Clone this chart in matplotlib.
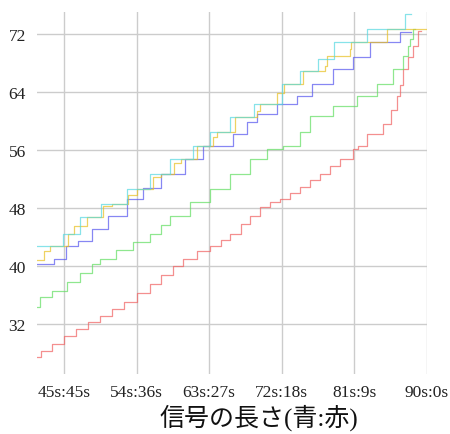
import matplotlib.pyplot as plt

plt.rcParams['font.family'] = ['Liberation Serif', 'Noto Sans CJK JP']

# 青信号の長さ [s] ごとの段階的な推移（where='post' の階段）
x_end = {"red": 89.2, "green": 88.5, "blue": 88.0, "yellow": 90.0, "cyan": 88.0}

red_x = [41.65, 42.2, 43.5, 45.0, 46.5, 48.0, 49.5, 51.0, 52.5, 54.0, 55.7, 57.0,
         58.5, 59.7, 61.5, 63.1, 64.5, 65.6, 67.0, 68.0, 69.3, 70.5, 71.8, 73.0,
         74.2, 75.5, 76.7, 78.0, 79.2, 80.8, 81.5, 82.5, 84.5, 85.5, 86.3, 86.7,
         87.0, 87.6, 88.2, 88.9]
red_y = [27.4, 28.3, 29.2, 30.3, 31.3, 32.2, 33.1, 34.0, 35.0, 36.2, 37.5, 38.8,
         40.0, 41.0, 42.0, 42.8, 43.6, 44.4, 45.8, 46.9, 48.1, 48.8, 49.2, 50.0,
         50.9, 51.8, 52.7, 53.8, 54.8, 56.1, 56.6, 58.2, 59.6, 61.5, 63.4, 65.0,
         67.2, 68.8, 70.3, 72.4]

green_x = [41.65, 42.0, 43.5, 45.4, 47.0, 48.5, 49.5, 51.5, 53.5, 55.7, 57.0, 58.1,
           60.6, 63.1, 65.6, 68.0, 70.2, 72.1, 74.2, 75.5, 78.3, 81.3, 83.8, 85.8,
           87.0, 87.6, 87.9, 88.2]
green_y = [34.3, 35.7, 36.5, 37.8, 39.0, 40.2, 41.0, 42.2, 43.3, 44.4, 45.7, 46.9,
           48.8, 50.6, 52.7, 54.8, 56.1, 56.6, 58.5, 60.7, 62.1, 63.4, 65.1, 67.2,
           69.0, 70.3, 71.3, 72.7]

blue_x = [41.65, 43.8, 45.3, 46.8, 48.5, 50.4, 52.8, 54.8, 57.0, 60.0, 62.2, 65.9,
          67.7, 68.9, 71.4, 73.9, 75.8, 78.3, 80.8, 82.9, 86.6]
blue_y = [40.2, 41.0, 42.8, 43.4, 45.1, 46.9, 49.2, 50.8, 52.7, 54.8, 56.6, 58.2,
          59.9, 61.0, 62.3, 63.4, 65.1, 67.2, 68.8, 70.9, 72.3]

yellow_x = [41.65, 42.5, 43.3, 45.5, 46.3, 47.8, 49.8, 51.0, 53.0, 54.0, 56.0, 57.0,
            58.6, 59.5, 61.5, 63.5, 64.0, 66.2, 68.9, 69.3, 71.4, 72.3, 74.6, 77.4,
            77.6, 80.4, 80.6, 85.0]
yellow_y = [40.8, 42.0, 42.8, 44.4, 45.5, 46.8, 48.2, 48.6, 49.8, 50.6, 52.2, 52.7,
            54.2, 54.8, 56.6, 57.8, 58.5, 60.5, 61.4, 62.3, 63.8, 65.1, 66.9, 67.6,
            69.0, 69.9, 70.9, 72.6]

cyan_x = [41.65, 44.9, 47.0, 49.6, 52.8, 55.65, 58.1, 61.0, 63.1, 65.6, 68.6, 72.0,
          74.2, 76.5, 78.5, 82.5, 87.3]
cyan_y = [42.8, 44.4, 46.8, 48.6, 50.6, 52.7, 54.8, 56.6, 58.5, 60.5, 62.3, 65.1,
          66.9, 68.5, 70.9, 72.7, 74.8]

series = [
    ("red", red_x, red_y, "#f06060"),
    ("green", green_x, green_y, "#60dd60"),
    ("blue", blue_x, blue_y, "#5555ee"),
    ("yellow", yellow_x, yellow_y, "#e8c020"),
    ("cyan", cyan_x, cyan_y, "#55d8e0"),
]

xticks = [45, 54, 63, 72, 81, 90]
xtick_labels = [f"{t}s:{90 - t}s" for t in xticks]
yticks = [32, 40, 48, 56, 64, 72]

fig = plt.figure(figsize=(4.5, 4.35), dpi=100)
ax = fig.add_axes([0.082, 0.138, 0.867, 0.832])

for name, xs, ys, c in series:
    ax.step(xs + [x_end[name]], ys + [ys[-1]], where="post",
            color=c, lw=0.9, alpha=0.7)

ax.set_xlim(41.65, 90.0)
ax.set_ylim(25.1, 75.0)
ax.set_xticks(xticks)
ax.set_xticklabels(xtick_labels)
ax.set_yticks(yticks)
ax.grid(True, color="#cccccc", lw=1.0)
ax.set_axisbelow(True)
for s in ax.spines.values():
    s.set_visible(False)
ax.tick_params(length=0, labelsize=12.5, colors="#222222")
ax.tick_params(axis="x", pad=7)
ax.tick_params(axis="y", pad=8)

ax.set_xlabel("信号の長さ(青:赤)", fontsize=18, color="#111111",
              x=0.57, labelpad=3)

fig.savefig("out.png", dpi=100)
